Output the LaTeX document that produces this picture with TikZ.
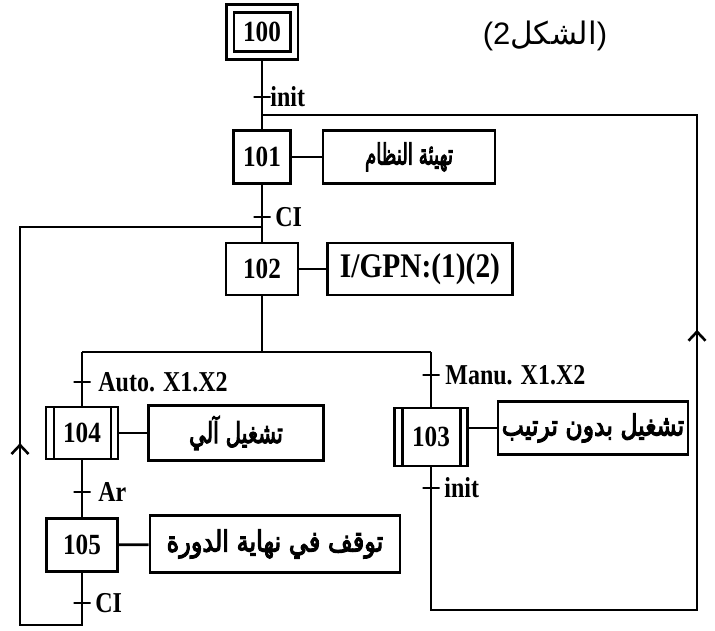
\documentclass[tikz,border=0pt]{standalone}
\usepackage{fontspec}
\setmainfont{Liberation Serif}
\newfontfamily\arabicfont[Script=Arabic]{DejaVu Sans}
\newfontfamily\arabicbold[Script=Arabic,FakeBold=4]{DejaVu Sans}
\newfontfamily\capfont{Liberation Sans}
\TeXXeTstate=1
\usetikzlibrary{arrows.meta,decorations.markings}
\newcommand{\tl}[1]{\scalebox{1.0}[1.2]{#1}}
\newcommand{\tn}[1]{\scalebox{1.05}[1.22]{#1}}
\newcommand{\ar}[2][1]{\scalebox{#1}[1.2]{\hbox{\arabicbold\beginR #2\endR}}}
\begin{document}
\begin{tikzpicture}[x=1pt,y=-1pt,
  every path/.style={line width=2.8pt},
  stepbox/.style={draw, line width=2.8pt, rectangle, inner sep=0pt,
    font=\bfseries\fontsize{24}{24}\selectfont},
  macrostep/.style={stepbox, path picture={
    \draw[line width=2.4pt] ([xshift=8pt]path picture bounding box.north west) -- ([xshift=8pt]path picture bounding box.south west);
    \draw[line width=2.4pt] ([xshift=-7pt]path picture bounding box.north east) -- ([xshift=-7pt]path picture bounding box.south east);}},
  act/.style={draw, line width=2.8pt, rectangle, inner sep=0pt},
  tick/.style={draw, line width=2.8pt, rectangle, minimum width=17pt, minimum height=0pt, inner sep=0pt, outer sep=0pt},
  lab/.style={anchor=west, inner sep=0pt, font=\bfseries\fontsize{24}{24}\selectfont},
  arfont/.style={font=\fontsize{24}{24}\selectfont},
  barb/.style={decoration={markings, mark=at position #1 with {\arrow{Straight Barb[length=9pt,width=17pt,line width=2.6pt]}}}, postaction={decorate}}
]
\useasboundingbox (0,0) rectangle (715,630);

% caption
\node[inner sep=0pt, font=\fontsize{31}{31}\selectfont] (cap) at (545,36)
  {\hbox{\capfont(2}\hbox{\arabicfont\beginR الشكل\endR}\hbox{\capfont)}};

% steps
\node[stepbox, double, double distance=5pt, minimum width=64pt, minimum height=47pt, outer sep=4.5pt] (s100) at (262,32) {\tn{100}};
\node[stepbox, minimum width=57pt, minimum height=53pt] (s101) at (262,157) {\tn{101}};
\node[stepbox, minimum width=72pt, minimum height=52pt] (s102) at (262,269) {\tn{102}};
\node[macrostep, minimum width=72pt, minimum height=52pt] (s104) at (82,433) {\tn{104}};
\node[stepbox, minimum width=71pt, minimum height=53pt] (s105) at (82,545) {\tn{105}};
\node[macrostep, minimum width=73pt, minimum height=58pt] (s103) at (431,437) {\tn{103}};

% actions
\node[act, minimum width=172pt, minimum height=53pt, arfont] (a101) at (409,157) {\ar[0.76]{تهيئة النظام}};
\node[act, minimum width=185pt, minimum height=52pt, font=\bfseries\fontsize{30}{30}\selectfont] (a102) at (420,269) {\scalebox{0.98}[1.15]{I/GPN:(1)(2)}};
\node[act, minimum width=175pt, minimum height=55pt, arfont] (a104) at (236,433) {\ar[0.88]{تشغيل آلي}};
\node[act, minimum width=250pt, minimum height=57pt, arfont] (a105) at (275,544) {\ar[1.0]{توقف في نهاية الدورة}};
\node[act, minimum width=190pt, minimum height=53pt, arfont] (a103) at (593,428) {\ar[0.98]{تشغيل بدون ترتيب}};

% transitions
\node[tick] (t1) at (262,97) {};
\node[tick] (t2) at (262,217) {};
\node[tick] (t3) at (82,382) {};
\node[tick] (t4) at (82,492) {};
\node[tick] (t5) at (82,603) {};
\node[tick] (t6) at (431,375) {};
\node[tick] (t7) at (431,488) {};

\node[lab] (l1) at (269,97) {\tl{init}};
\node[lab] (l2) at (274,217) {\tl{CI}};
\node[lab] (l3) at (97,382) {\tl{Auto. X1.X2}};
\node[lab] (l4) at (97,492) {\tl{Ar}};
\node[lab] (l5) at (94,603) {\tl{CI}};
\node[lab] (l6) at (444,375) {\tl{Manu. X1.X2}};
\node[lab] (l7) at (443,488) {\tl{init}};

% junction coordinates
\coordinate (jt) at (262,115);
\coordinate (jl) at (262,227);
\coordinate (bd) at (262,352);
\coordinate (bl) at (82,352);
\coordinate (br) at (431,352);
\coordinate (lb) at (20,625);
\coordinate (lt) at (20,227);
\coordinate (rb) at (697,610);
\coordinate (rt) at (697,115);

% connectors
\draw (s100.south) -- (s101.north);
\draw (s101.south) -- (s102.north);
\draw (s102.south) -- (bd);
\draw (bl) -- (br);
\draw (bl) -- (s104.north);
\draw (s104.south) -- (s105.north);
\draw (br) -- (s103.north);
\draw (s101) -- (a101);
\draw (s102) -- (a102);
\draw (s104) -- (a104);
\draw (s105) -- (a105);
\draw (s103.east |- a103.west) -- (a103.west);

% loops
\draw (s105.south) |- (lb) -- (lt) -- (jl);
\path[barb=0.457] (lb) -- (lt);
\draw (s103.south) |- (rb) -- (rt) -- (jt);
\path[barb=0.566] (rb) -- (rt);
\end{tikzpicture}
\end{document}
